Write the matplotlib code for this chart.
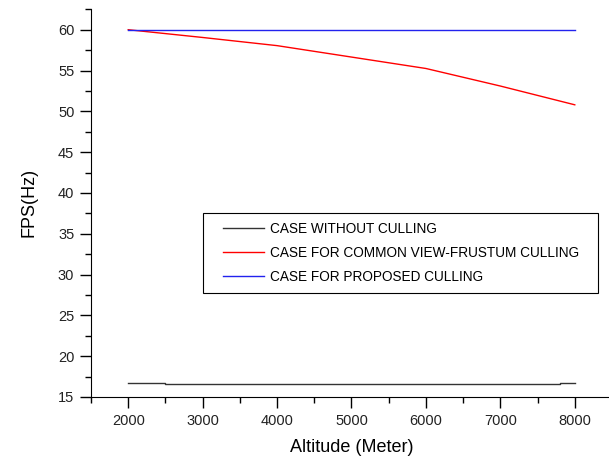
import matplotlib
matplotlib.use("Agg")
import matplotlib.pyplot as plt
from matplotlib.ticker import MultipleLocator
from matplotlib.patches import Rectangle

plt.rcParams['font.family'] = ['Liberation Sans', 'DejaVu Sans']

altitude = [2000, 3000, 4000, 5000, 6000, 7000, 8000]
common_culling = [60.0, 59.05, 58.05, 56.65, 55.25, 53.1, 50.8]
proposed_x = [2000, 8000]
proposed = [60.0, 60.0]
without_x = [2000, 2500, 2500, 7800, 7800, 8000]
without = [16.72, 16.72, 16.6, 16.6, 16.72, 16.72]

labels = ["CASE WITHOUT CULLING",
          "CASE FOR COMMON VIEW-FRUSTUM CULLING",
          "CASE FOR PROPOSED CULLING"]

W, H = 609, 459
fig = plt.figure(figsize=(W/100, H/100), dpi=100)
ax = fig.add_axes([91/W, 1-397/H, 521/W, (397-8.5)/H])

ax.plot(without_x, without, color='#333333', lw=1.0, label=labels[0])
ax.plot(altitude, common_culling, color='#ff0000', lw=1.0, label=labels[1])
ax.plot(proposed_x, proposed, color='#2222ee', lw=1.0, label=labels[2])

ax.set_xlim(1500, 8500)
ax.set_ylim(15, 62.6)
ax.xaxis.set_major_locator(MultipleLocator(1000))
ax.xaxis.set_minor_locator(MultipleLocator(500))
ax.yaxis.set_major_locator(MultipleLocator(5))
ax.yaxis.set_minor_locator(MultipleLocator(2.5))
ax.set_xticks(range(2000, 8001, 1000))
ax.spines['top'].set_visible(False)
ax.spines['right'].set_visible(False)
ax.tick_params(which='major', direction='out', length=8, width=1, labelsize=10.5,
               colors='black', pad=4)
ax.tick_params(which='minor', direction='out', length=4, width=1)
for lab in ax.get_xticklabels() + ax.get_yticklabels():
    lab.set_color('#222222')

ax.set_xlabel("Altitude (Meter)", fontsize=13, labelpad=8)
ax.set_ylabel("FPS(Hz)", fontsize=13, labelpad=15)

fig.patches.append(Rectangle((203/W, 1-293/H), (598-203)/W, 80/H,
                             transform=fig.transFigure, fill=False,
                             edgecolor='black', lw=0.8))
leg = fig.legend(loc='upper left', bbox_to_anchor=(216/W, 1-215/H),
                 frameon=False, fontsize=9.8, handlelength=3.0,
                 borderpad=0, labelspacing=0.74, handletextpad=0.45)

fig.savefig("out.png", dpi=100)
